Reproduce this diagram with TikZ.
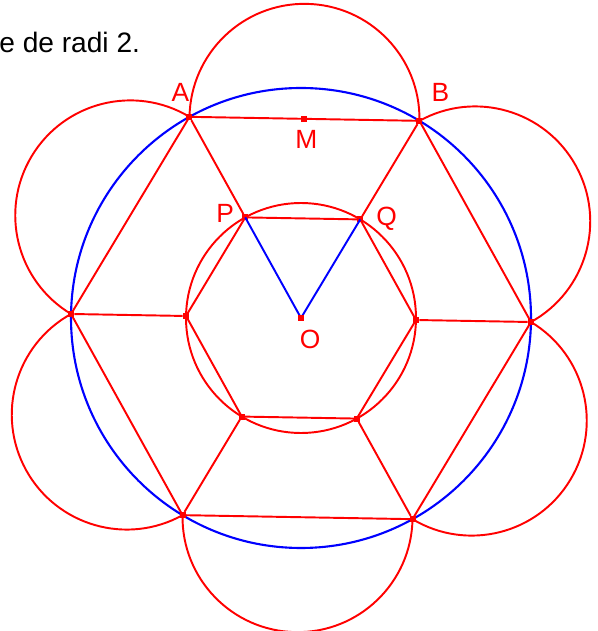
\documentclass[tikz,border=0pt]{standalone}
\usepackage{fontspec}
\setmainfont{Liberation Sans}

\begin{document}
\begin{tikzpicture}[
  dot/.style={rectangle, fill=red, minimum size=0.12cm, inner sep=0pt},
  seg/.style={red, line width=1.1pt},
  lbl/.style={text=red, inner sep=0pt, font=\fontsize{15}{18}\selectfont}]
  \useasboundingbox (-6.02,-6.26) rectangle (5.92,6.36);

  % Title (cut off on the left)
  \node[anchor=base west, inner sep=0pt, font=\fontsize{16}{19}\selectfont] (title) at (-6.04,5.3) {e de radi 2.};

  % Blue circle of radius 2
  \coordinate (centre) at (0,0);
  \draw[blue, line width=1.2pt] (centre) circle (4.6);

  % Big hexagon, vertices on the blue circle
  \node[dot] (A) at (119:4.6) {};
  \node[dot] (B) at (59:4.6) {};
  \node[dot] (vert-C) at (-1:4.6) {};
  \node[dot] (vert-D) at (-61:4.6) {};
  \node[dot] (vert-E) at (-121:4.6) {};
  \node[dot] (vert-F) at (179:4.6) {};

  % Small hexagon, half way to the centre
  \node[dot] (P) at (119:2.3) {};
  \node[dot] (Q) at (59:2.3) {};
  \node[dot] (mid-C) at (-1:2.3) {};
  \node[dot] (mid-D) at (-61:2.3) {};
  \node[dot] (mid-E) at (-121:2.3) {};
  \node[dot] (mid-F) at (179:2.3) {};

  \node[dot] (M) at (89:3.984) {};

  % Inner circle
  \draw[seg] (centre) circle (2.3);

  % Half circles on the sides of the big hexagon
  \draw[seg] (vert-C.center) arc[start angle=-61, end angle=119, radius=2.3];
  \draw[seg] (B.center) arc[start angle=-1, end angle=179, radius=2.3];
  \draw[seg] (A.center) arc[start angle=59, end angle=239, radius=2.3];
  \draw[seg] (vert-F.center) arc[start angle=119, end angle=299, radius=2.3];
  \draw[seg] (vert-E.center) arc[start angle=179, end angle=359, radius=2.3];
  \draw[seg] (vert-D.center) arc[start angle=239, end angle=419, radius=2.3];

  % Sides of both hexagons
  \draw[seg] (A.center) -- (B.center) -- (vert-C.center) -- (vert-D.center)
    -- (vert-E.center) -- (vert-F.center) -- cycle;
  \draw[seg] (P.center) -- (Q.center) -- (mid-C.center) -- (mid-D.center)
    -- (mid-E.center) -- (mid-F.center) -- cycle;

  % Spokes from big to small hexagon
  \draw[seg] (A) -- (P);
  \draw[seg] (B) -- (Q);
  \draw[seg] (vert-C) -- (mid-C);
  \draw[seg] (vert-D) -- (mid-D);
  \draw[seg] (vert-E) -- (mid-E);
  \draw[seg] (vert-F) -- (mid-F);

  % Triangle OPQ
  \draw[blue, line width=1.1pt] (P.center) -- (centre) -- (Q.center);
  \node[dot] (O) at (centre) {};

  % Labels
  \node[lbl] (lbl-A) at ([shift={(-0.18,0.48)}]A) {A};
  \node[lbl] (lbl-B) at ([shift={(0.42,0.56)}]B) {B};
  \node[lbl] (lbl-M) at ([shift={(0.04,-0.42)}]M) {M};
  \node[lbl] (lbl-P) at ([shift={(-0.4,0.08)}]P) {P};
  \node[lbl] (lbl-Q) at ([shift={(0.53,0.02)}]Q) {Q};
  \node[lbl] (lbl-O) at ([shift={(0.18,-0.42)}]O) {O};
\end{tikzpicture}
\end{document}
